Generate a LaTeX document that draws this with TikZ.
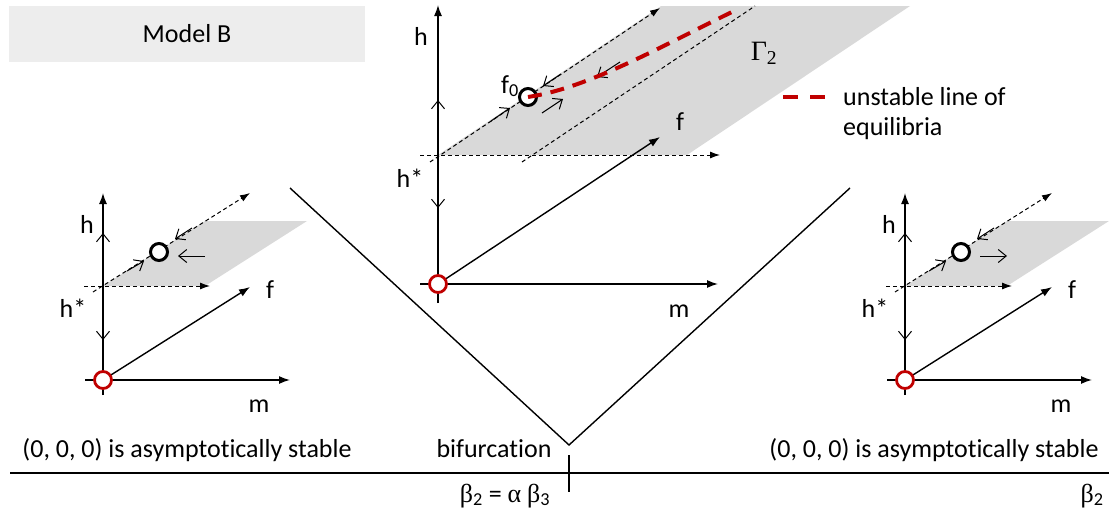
\documentclass[tikz,border=0pt]{standalone}
\usepackage{fontspec}
\setmainfont[Ligatures=NoCommon]{Carlito}
\newfontfamily\grk{Liberation Serif}
\usetikzlibrary{arrows.meta}
\definecolor{plane}{HTML}{D9D9D9}
\definecolor{boxgray}{HTML}{EDEDED}
\definecolor{eqred}{HTML}{C00000}
\tikzset{
  axis/.style={line width=1.4pt,-{Latex[length=11pt,width=8pt]}},
  dsh/.style={line width=1pt,dash pattern=on 4pt off 3pt,-{Latex[length=10pt,width=7pt]}},
  dshplain/.style={line width=1pt,dash pattern=on 4pt off 3pt},
  small/.style={line width=1pt,-{Straight Barb[length=8pt,width=13pt]}},
  eqb/.style={circle,draw=black,line width=3pt,fill=white,minimum size=17pt,inner sep=0pt},
  orig/.style={circle,draw=eqred,line width=2.8pt,fill=white,minimum size=17pt,inner sep=0pt},
  lbl/.style={inner sep=0pt,anchor=base,font=\fontsize{26}{31}\selectfont},
  redline/.style={eqred,line width=4pt,dash pattern=on 14pt off 9pt},
  plain/.style={line width=1.4pt},
  mini/.pic={
    \fill[plane] (0,-94) -- (102,-94) -- (204,-159) -- (102,-159) -- cycle;
    \coordinate (-o) at (0,0);
    \coordinate (-hb) at (0,15);
    \coordinate (-ht) at (0,-187);
    \coordinate (-ml) at (-18,0);
    \coordinate (-mr) at (187,0);
    \coordinate (-ft) at (147,-93);
    \coordinate (-sl) at (-19,-94);
    \coordinate (-sr) at (107,-94);
    \coordinate (-dl) at (-10,-88);
    \coordinate (-dr) at (147,-187);
    \draw[dsh] (-sl) -- (-sr);
    \draw[dsh] (-dl) -- (-dr);
    \draw[axis] (-hb) -- (-ht);
    \draw[axis] (-ml) -- (-mr);
    \draw[axis] (-o) -- (-ft);
    \draw[small] (0,-136) -- (0,-147);
    \draw[small] (0,-51) -- (0,-40);
    \draw[small] (24,-109) -- (41,-119);
    \draw[small] (89,-152) -- (72,-141);
    \node[eqb] (-c) at (56,-128) {};
    \node[orig] (-oc) at (-o) {};
    \node[lbl] (-h) at (-16,-147) {h};
    \node[lbl] (-hs) at (-30,-63) {h*};
    \node[lbl] (-f) at (167,-82) {f};
    \node[lbl] (-m) at (156,32) {m};
  }
}
\begin{document}
\begin{tikzpicture}[x=1pt,y=-1pt]
\useasboundingbox (0,0) rectangle (1109,512);

% title box
\node[fill=boxgray,minimum width=356pt,minimum height=56pt,inner sep=0pt,
      font=\fontsize{26}{31}\selectfont] (title) at (187,34) {Model B};

% V shape and bottom axis
\coordinate (vl) at (290,188);
\coordinate (vb) at (569,445);
\coordinate (vr) at (850,188);
\draw[plain] (vl) -- (vb) -- (vr);
\coordinate (axl) at (10,473);
\coordinate (axr) at (1109,473);
\draw[plain] (axl) -- (axr);
\coordinate (tkt) at (569,455);
\coordinate (tkb) at (569,492);
\draw[plain] (tkt) -- (tkb);

% mini diagrams
\pic (L) at (103,380) {mini};
\pic (R) at (905,380) {mini};
\coordinate (la1) at (205,256); \coordinate (la2) at (178,256);
\draw[small] (la1) -- (la2);
\coordinate (ra1) at (980,256); \coordinate (ra2) at (1007,256);
\draw[small] (ra1) -- (ra2);

% centre diagram
\fill[plane] (438,155) -- (687,155) -- (910,6) -- (661,6) -- cycle;
\coordinate (co) at (438,284);
\coordinate (chb) at (438,303);
\coordinate (cht) at (438,5);
\coordinate (cml) at (420,284);
\coordinate (cmr) at (718,284);
\coordinate (cft) at (660,137);
\coordinate (csl) at (420,155);
\coordinate (csr) at (720,155);
\coordinate (cd1l) at (430,162);
\coordinate (cd1r) at (660,8);
\coordinate (cd2l) at (522,162);
\coordinate (cd2r) at (755,6);
\draw[dsh] (csl) -- (csr);
\draw[dsh] (cd1l) -- (cd1r);
\draw[dshplain] (cd2l) -- (cd2r);
\draw[axis] (chb) -- (cht);
\draw[axis] (cml) -- (cmr);
\draw[axis] (co) -- (cft);
\draw[small] (438,111) -- (438,100);
\draw[small] (438,197) -- (438,208);
\draw[small] (491,121) -- (510,108);
\draw[small] (542,113) -- (563,99);
\draw[small] (561,74) -- (543,86);
\draw[small] (620,62) -- (597,77);
\node[eqb] (f0) at (528,97) {};
\draw[redline] (f0.center) .. controls (588,88) and (658,48) .. (738,9);
\node[orig] (coc) at (co) {};
\node[lbl] (ch) at (421,45) {h};
\node[lbl] (chs) at (410,187) {h*};
\node[lbl] (cf0) at (510,93) {f\textsubscript{0}};
\node[lbl] (cf) at (680,130) {f};
\node[lbl] (cm) at (679,317) {m};
\node[lbl,font=\fontsize{28}{32}\selectfont\grk] (gam) at (764,60) {Γ\textsubscript{2}};

% legend
\coordinate (lg1) at (783,97);
\coordinate (lg2) at (826,97);
\draw[eqred,line width=4pt,dash pattern=on 15pt off 12pt] (lg1) -- (lg2);
\node[lbl,anchor=base west] (leg1) at (843,105) {unstable line of};
\node[lbl,anchor=base west] (leg2) at (843,135) {equilibria};

% bottom texts
\node[lbl] (stabL) at (187,457) {(0, 0, 0) is asymptotically stable};
\node[lbl] (bif) at (494,457) {bifurcation};
\node[lbl] (stabR) at (934,457) {(0, 0, 0) is asymptotically stable};
\node[lbl] (bcrit) at (505,502) {{\grk β}\textsubscript{2} = {\grk α} {\grk β}\textsubscript{3}};
\node[lbl] (b2) at (1092,502) {{\grk β}\textsubscript{2}};
\end{tikzpicture}
\end{document}
